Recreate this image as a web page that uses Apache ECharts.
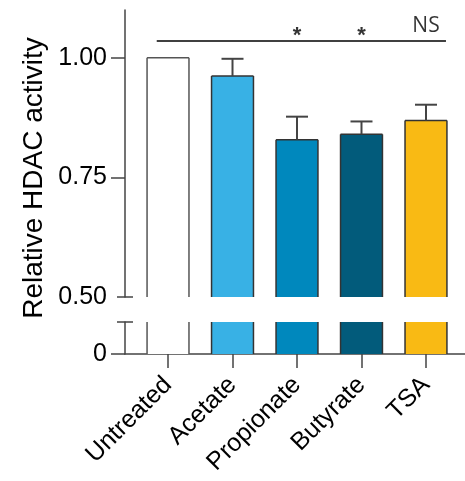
<!DOCTYPE html>
<html>
<head>
<meta charset="utf-8">
<script src="https://cdn.jsdelivr.net/npm/echarts@6/dist/echarts.min.js"></script>
<style>html,body{margin:0;padding:0;background:#fff}#c{width:465px;height:481px}</style>
</head>
<body>
<div id="c"></div>
<script>
const categories = ['Untreated', 'Acetate', 'Propionate', 'Butyrate', 'TSA'];
const means = [1.00, 0.962, 0.829, 0.840, 0.869];
const errors = [0, 0.036, 0.048, 0.027, 0.033];
const barColors = ['#ffffff', '#38b1e5', '#0088bd', '#025b7b', '#f9ba14'];
const sigLabels = ['', '', '*', '*', 'NS'];
const upperTicks = [0.50, 0.75, 1.00];
const lowerTicks = [0];
const sigLineY = 1.036;

const AX = '#444';
const FONT = 'Liberation Sans, Arial, sans-serif';
const idx = categories.map((c, i) => i);
const X_MIN = -0.667, X_MAX = 4.605;
const UP_MIN = 0.5, UP_MAX = 1.1, LO_MIN = 0, LO_MAX = 0.067;
const BAR_FRAC = 0.65;

function yAxisBase(grid, min, max) {
  return { type: 'value', gridIndex: grid, min: min, max: max, position: 'left', splitLine: { show: false } };
}

function renderBar(params, api) {
  const i = api.value(0), v = api.value(1);
  const cs = params.coordSys;
  const half = api.size([BAR_FRAC, 0])[0] / 2;
  const pTop = api.coord([i, v]);
  const pBase = api.coord([i, 0]);
  const x = pTop[0];
  const yTop = Math.max(cs.y, Math.min(cs.y + cs.height, pTop[1]));
  const yBot = Math.max(cs.y, Math.min(cs.y + cs.height, pBase[1]));
  if (yBot - yTop <= 0) return null;
  const edge = i === 0 ? '#555' : '#333';
  const st = { stroke: edge, lineWidth: 1.5 };
  const ch = [
    { type: 'rect', shape: { x: x - half, y: yTop, width: half * 2, height: yBot - yTop }, style: { fill: barColors[i] } },
    { type: 'line', shape: { x1: x - half, y1: yTop, x2: x - half, y2: yBot }, style: st },
    { type: 'line', shape: { x1: x + half, y1: yTop, x2: x + half, y2: yBot }, style: st }
  ];
  if (pTop[1] >= cs.y && pTop[1] <= cs.y + cs.height) {
    ch.push({ type: 'line', shape: { x1: x - half, y1: yTop, x2: x + half, y2: yTop }, style: st });
  }
  return { type: 'group', children: ch };
}

const barData = means.map((v, i) => [i, v]);
const tickStyle = { color: AX, width: 1.5 };

const chart = echarts.init(document.getElementById('c'));
chart.setOption({
  animation: false,
  backgroundColor: '#fff',
  grid: [
    { left: 125, right: 0, top: 10, height: 287 },
    { left: 125, right: 0, top: 322, height: 32 }
  ],
  xAxis: [
    { type: 'value', gridIndex: 0, min: X_MIN, max: X_MAX, show: false, splitLine: { show: false } },
    {
      type: 'value', gridIndex: 1, min: X_MIN, max: X_MAX, splitLine: { show: false },
      axisLine: { show: true, onZero: false, lineStyle: tickStyle },
      axisTick: { show: true, customValues: idx, length: 14, lineStyle: tickStyle },
      axisLabel: {
        customValues: idx, rotate: 45, margin: 27, fontSize: 25, color: '#000', fontFamily: FONT,
        formatter: v => categories[Math.round(v)]
      }
    }
  ],
  yAxis: [
    Object.assign(yAxisBase(0, UP_MIN, UP_MAX), {
      axisLine: { show: true, onZero: false, lineStyle: tickStyle },
      axisTick: { show: true, customValues: upperTicks.slice(1), length: 14, lineStyle: tickStyle },
      axisLabel: { customValues: upperTicks, margin: 18, fontSize: 25, color: '#000', fontFamily: FONT, formatter: v => v.toFixed(2) }
    }),
    Object.assign(yAxisBase(0, UP_MIN, UP_MAX), {
      axisLine: { show: false, onZero: false }, axisLabel: { show: false },
      axisTick: { show: true, customValues: [UP_MIN], length: 8, lineStyle: tickStyle }
    }),
    Object.assign(yAxisBase(0, UP_MIN, UP_MAX), {
      axisLine: { show: false, onZero: false }, axisLabel: { show: false },
      axisTick: { show: true, inside: true, customValues: [UP_MIN], length: 8, lineStyle: tickStyle }
    }),
    Object.assign(yAxisBase(1, LO_MIN, LO_MAX), {
      axisLine: { show: true, onZero: false, lineStyle: tickStyle },
      axisTick: { show: true, customValues: lowerTicks, length: 14, lineStyle: tickStyle },
      axisLabel: { customValues: lowerTicks, margin: 18, fontSize: 25, color: '#000', fontFamily: FONT, formatter: v => String(v) }
    }),
    Object.assign(yAxisBase(1, LO_MIN, LO_MAX), {
      axisLine: { show: false, onZero: false }, axisLabel: { show: false },
      axisTick: { show: true, customValues: [LO_MAX], length: 8, lineStyle: tickStyle }
    }),
    Object.assign(yAxisBase(1, LO_MIN, LO_MAX), {
      axisLine: { show: false, onZero: false }, axisLabel: { show: false },
      axisTick: { show: true, inside: true, customValues: [LO_MAX], length: 8, lineStyle: tickStyle }
    })
  ],
  graphic: [{
    type: 'text', x: 34, y: 178, rotation: Math.PI / 2,
    style: { text: 'Relative HDAC activity', fontSize: 28, fontFamily: FONT, fill: '#000', textAlign: 'center', textVerticalAlign: 'middle' }
  }],
  series: [
    { type: 'custom', xAxisIndex: 0, yAxisIndex: 0, data: barData, renderItem: renderBar, z: 2,
      markLine: {
        silent: true, symbol: 'none', label: { show: false },
        lineStyle: { color: '#000', width: 1.5, type: 'solid' },
        data: [[{ coord: [-0.175, sigLineY] }, { coord: [4.31, sigLineY] }]]
      }
    },
    { type: 'custom', xAxisIndex: 1, yAxisIndex: 3, data: barData, renderItem: renderBar, z: 2 },
    {
      type: 'custom', xAxisIndex: 0, yAxisIndex: 0, z: 3,
      data: means.map((v, i) => [i, v, errors[i]]),
      renderItem: function (params, api) {
        const e = api.value(2);
        if (!e) return null;
        const p1 = api.coord([api.value(0), api.value(1)]);
        const p2 = api.coord([api.value(0), api.value(1) + e]);
        const st = { stroke: AX, lineWidth: 2 };
        return { type: 'group', children: [
          { type: 'line', shape: { x1: p1[0], y1: p1[1], x2: p2[0], y2: p2[1] }, style: st },
          { type: 'line', shape: { x1: p2[0] - 11, y1: p2[1], x2: p2[0] + 11, y2: p2[1] }, style: st }
        ] };
      }
    },
    {
      type: 'scatter', xAxisIndex: 0, yAxisIndex: 0, symbolSize: 0, silent: true,
      data: sigLabels.map((s, i) => ({ value: [i, s === 'NS' ? 1.066 : 1.046], label: { show: s !== '', formatter: s,
        position: 'inside', fontSize: s === 'NS' ? 21 : 22, fontWeight: s === 'NS' ? 'normal' : 'bold',
        fontFamily: s === 'NS' ? 'Open Sans, sans-serif' : FONT, color: '#000' } }))
    }
  ]
});
</script>
</body>
</html>
